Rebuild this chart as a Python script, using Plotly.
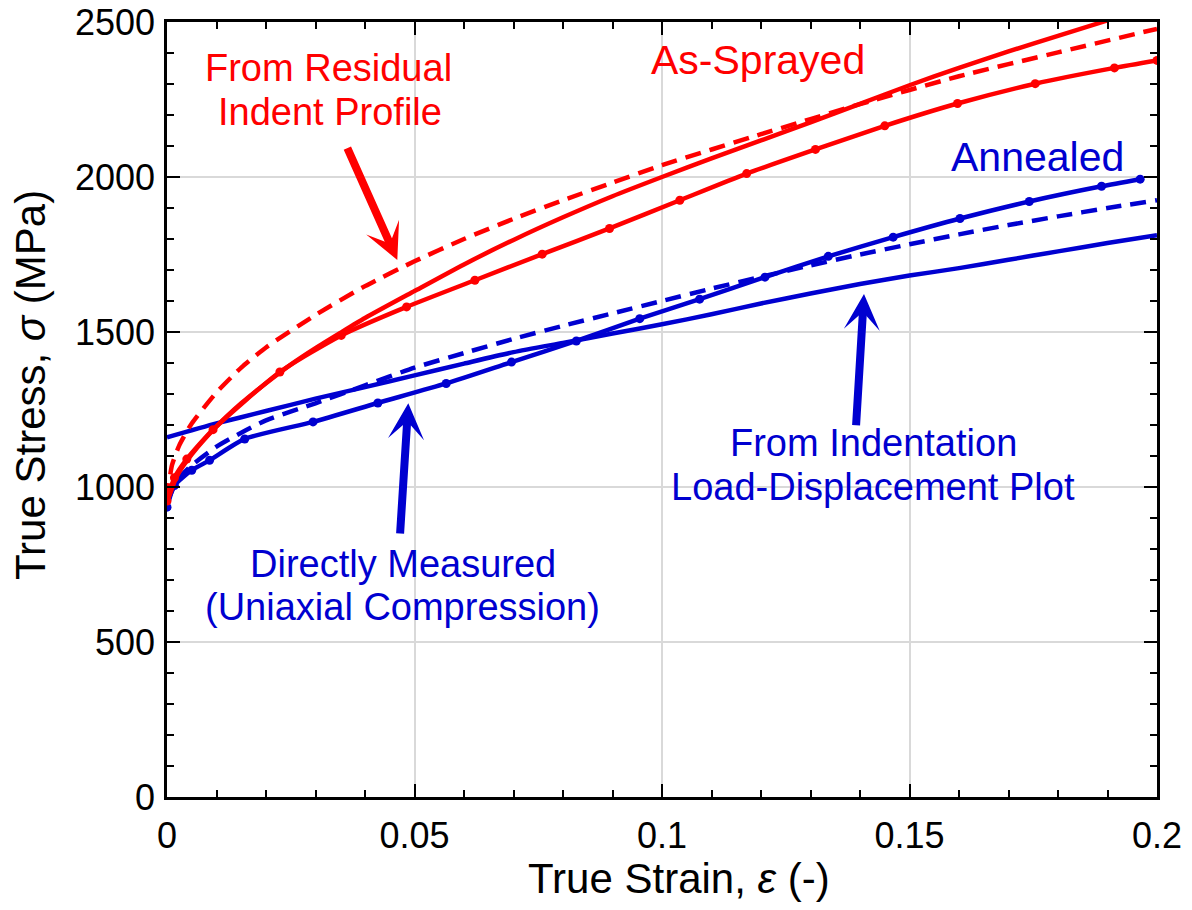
import plotly.graph_objects as go

# ---------------- data ----------------
# As-Sprayed, directly measured (uniaxial compression) - solid with dots
as_meas_x = [0, 0.0015, 0.004, 0.0093, 0.0228, 0.0352, 0.0484, 0.0622, 0.0758, 0.0894,
             0.1036, 0.1171, 0.131, 0.145, 0.1597, 0.1754, 0.1914, 0.2]
as_meas_y = [955, 1030, 1090, 1185, 1371, 1489, 1581, 1667, 1751, 1834,
             1925, 2011, 2089, 2165, 2237, 2301, 2352, 2376]

# As-Sprayed, from indentation load-displacement plot - solid
as_ld_x = [0, 0.002, 0.005, 0.01, 0.015, 0.02, 0.025, 0.03, 0.035, 0.04, 0.05, 0.06,
           0.07, 0.08, 0.09, 0.1, 0.11, 0.12, 0.13, 0.14, 0.15, 0.16, 0.17, 0.18, 0.19]
as_ld_y = [950, 1035, 1105, 1195, 1270, 1335, 1395, 1448, 1497, 1545, 1632, 1718,
           1797, 1870, 1938, 2000, 2060, 2118, 2176, 2236, 2296, 2352, 2405, 2455, 2505]

# As-Sprayed, from residual indent profile - dashed
as_rp_x = [0, 0.001, 0.0025, 0.005, 0.01, 0.015, 0.02, 0.03, 0.04, 0.05, 0.06, 0.07,
           0.08, 0.09, 0.1, 0.12, 0.14, 0.16, 0.18, 0.2]
as_rp_y = [960, 1070, 1135, 1205, 1305, 1385, 1450, 1555, 1648, 1728, 1800, 1865,
           1925, 1982, 2038, 2138, 2235, 2325, 2402, 2478]

# Annealed, directly measured - solid with dots
an_meas_x = [0, 0.0015, 0.005, 0.0086, 0.0157, 0.0295, 0.0426, 0.0564, 0.0696, 0.0827,
             0.0955, 0.1076, 0.1208, 0.1336, 0.1467, 0.1602, 0.1742, 0.1888, 0.1966]
an_meas_y = [935, 1005, 1054, 1086, 1155, 1210, 1271, 1334, 1403, 1471,
             1543, 1606, 1677, 1744, 1806, 1866, 1921, 1970, 1993]

# Annealed, from indentation load-displacement plot - solid
an_ld_x = [0, 0.01, 0.02, 0.03, 0.04, 0.05, 0.06, 0.07, 0.08, 0.09, 0.1,
           0.11, 0.12, 0.13, 0.14, 0.15, 0.16, 0.17, 0.18, 0.19, 0.2]
an_ld_y = [1160, 1205, 1245, 1285, 1322, 1360, 1398, 1435, 1465, 1495, 1525,
           1557, 1592, 1624, 1655, 1682, 1706, 1733, 1760, 1787, 1812]

# Annealed, from residual indent profile - dashed
an_rp_x = [0, 0.002, 0.005, 0.01, 0.015, 0.02, 0.03, 0.04, 0.05, 0.06, 0.07, 0.08,
           0.09, 0.1, 0.11, 0.12, 0.13, 0.14, 0.15, 0.16, 0.17, 0.18, 0.19, 0.2]
an_rp_y = [950, 1020, 1070, 1130, 1175, 1215, 1270, 1328, 1385, 1432, 1478, 1520,
           1560, 1600, 1640, 1678, 1715, 1750, 1783, 1815, 1845, 1873, 1900, 1925]

x_ticks = [0, 0.05, 0.1, 0.15, 0.2]
x_tick_text = ["0", "0.05", "0.1", "0.15", "0.2"]
y_ticks = [0, 500, 1000, 1500, 2000, 2500]
y_tick_text = ["0", "500", "1000", "1500", "2000", "2500"]

RED = "#ff0000"
BLUE = "#0000d0"
FONT = "Liberation Sans, Arial, sans-serif"

fig = go.Figure()

def add_line(x, y, color, dash="solid", markers=False):
    fig.add_trace(go.Scatter(
        x=x, y=y, mode="lines+markers" if markers else "lines",
        line=dict(color=color, width=4.5, dash=dash, shape="spline", smoothing=0.6),
        marker=dict(color=color, size=9),
        showlegend=False, hoverinfo="skip"))

add_line(an_rp_x, an_rp_y, BLUE, dash="16px,9px")
add_line(an_ld_x, an_ld_y, BLUE)
add_line(an_meas_x, an_meas_y, BLUE, markers=True)
add_line(as_rp_x, as_rp_y, RED, dash="16px,9px")
add_line(as_ld_x, as_ld_y, RED)
add_line(as_meas_x, as_meas_y, RED, markers=True)

# ---------------- layout geometry (screen pixels) ----------------
W, H = 1192, 910
SL, ST, SR, SB = 167, 22, 1157, 797
PW, PH = SR - SL, SB - ST

def X(px):
    return (px - SL) / PW * 0.2

def Y(py):
    return (SB - py) / PH * 2500

def PX(px):
    return (px - SL) / PW

def PY(py):
    return (SB - py) / PH

annotations = []

def label(text, cx, cy, color, size):
    annotations.append(dict(x=X(cx), y=Y(cy), xref="x", yref="y", text=text,
                            showarrow=False, xanchor="center", yanchor="middle",
                            font=dict(family=FONT, size=size, color=color)))

def arrow(tail, tip, color):
    annotations.append(dict(x=X(tip[0]), y=Y(tip[1]), ax=X(tail[0]), ay=Y(tail[1]),
                            xref="x", yref="y", axref="x", ayref="y", text="",
                            showarrow=True, arrowhead=3, arrowsize=0.75, arrowwidth=8,
                            arrowcolor=color))

label("From Residual", 328, 68, RED, 38)
label("Indent Profile", 329.5, 111.5, RED, 38)
label("As-Sprayed", 758, 60, RED, 41)
label("Annealed", 1037, 157, BLUE, 41)
label("From Indentation", 873, 443, BLUE, 38)
label("Load-Displacement Plot", 873, 486.5, BLUE, 38)
label("Directly Measured", 402.5, 563.5, BLUE, 38)
label("(Uniaxial Compression)", 402.5, 606.5, BLUE, 38)

arrow((346.7, 146.7), (397.3, 260), RED)
arrow((400, 535), (408.3, 403.3), BLUE)
arrow((856, 426.7), (864, 294), BLUE)

# axis titles
annotations.append(dict(x=PX(679), y=PY(879), xref="paper", yref="paper",
                        text="True Strain, <i>ε</i> (-)", showarrow=False,
                        xanchor="center", yanchor="middle",
                        font=dict(family=FONT, size=42, color="black")))
annotations.append(dict(x=PX(30), y=PY(385), xref="paper", yref="paper",
                        text="True Stress, <i>σ</i> (MPa)", showarrow=False, textangle=-90,
                        xanchor="center", yanchor="middle",
                        font=dict(family=FONT, size=42, color="black")))

axis_common = dict(
    showline=True, linecolor="black", linewidth=2.5, mirror="allticks",
    ticks="inside", ticklen=13, tickwidth=2, tickcolor="black",
    showgrid=True, gridcolor="#d9d9d9", gridwidth=1.5, zeroline=False,
    tickfont=dict(family=FONT, size=36, color="black"), automargin=False,
    ticklabeloverflow="allow",
)

fig.update_layout(
    width=W, height=H,
    margin=dict(l=SL, r=W - SR, t=ST, b=H - SB, autoexpand=False),
    paper_bgcolor="white", plot_bgcolor="white",
    annotations=annotations,
    xaxis=dict(range=[0, 0.2], tickvals=x_ticks, ticktext=x_tick_text,
               minor=dict(dtick=0.01, ticks="inside", ticklen=7, tickwidth=2,
                          tickcolor="black", showgrid=False),
               ticklabelstandoff=5, **axis_common),
    yaxis=dict(range=[0, 2500], tickvals=y_ticks, ticktext=y_tick_text,
               minor=dict(dtick=100, ticks="inside", ticklen=7, tickwidth=2,
                          tickcolor="black", showgrid=False),
               ticklabelstandoff=2, **axis_common),
)

# remove the default 8px page margin so the figure fills the window exactly
fig.write_html("out.html", config={"displayModeBar": False},
               post_script="document.body.style.margin='0px';")
